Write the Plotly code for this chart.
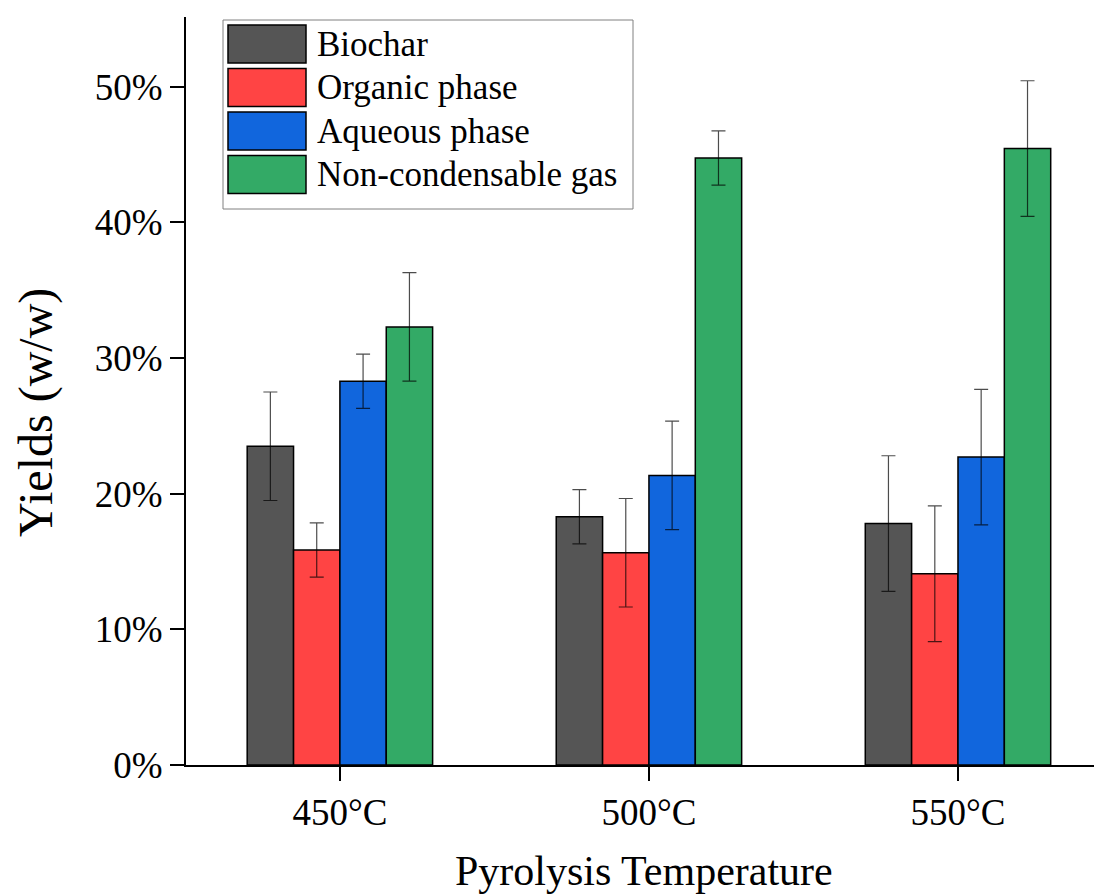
import plotly.graph_objects as go

# ---------------- data ----------------
categories = ["450°C", "500°C", "550°C"]
series_names = ["Biochar", "Organic phase", "Aqueous phase", "Non-condensable gas"]
biochar = [23.5, 18.3, 17.8]
biochar_err = [4.0, 2.0, 5.0]
organic = [15.85, 15.65, 14.1]
organic_err = [2.0, 4.0, 5.0]
aqueous = [28.3, 21.35, 22.7]
aqueous_err = [2.0, 4.0, 5.0]
gas = [32.3, 44.75, 45.45]
gas_err = [4.0, 2.0, 5.0]
y_tick_values = [0, 10, 20, 30, 40, 50]
y_tick_labels = ["0%", "10%", "20%", "30%", "40%", "50%"]
colors = ["#555555", "#FF4444", "#1166DD", "#33AA66"]

values = [biochar, organic, aqueous, gas]
errors = [biochar_err, organic_err, aqueous_err, gas_err]

FONT = "Liberation Serif, Times New Roman, serif"
OFF = 8  # page body margin
W, H = 1102 - OFF, 894 - OFF
L, R, T, B = 186 - OFF, 0, 17 - OFF, 129
PW, PH = W - L - R, H - T - B


def px(x):
    # screen pixel -> paper x
    return (x - OFF - L) / PW


def py(y):
    # screen pixel -> paper y
    return (H - B - (y - OFF)) / PH


fig = go.Figure()
for name, vals, errs, col in zip(series_names, values, errors, colors):
    fig.add_trace(go.Bar(
        x=categories, y=vals, name=name,
        marker=dict(color=col, line=dict(color="black", width=1.5)),
        error_y=dict(type="data", array=errs, color="rgba(0,0,0,0.7)",
                     thickness=1.2, width=7),
        showlegend=False,
    ))

shapes = []
annotations = []
# custom legend box
shapes.append(dict(type="rect", xref="paper", yref="paper",
                   x0=px(223), x1=px(633), y0=py(209), y1=py(20),
                   line=dict(color="#808080", width=1), fillcolor="white",
                   layer="above"))
for i, (name, col) in enumerate(zip(series_names, colors)):
    top = 25 + i * 43.5
    shapes.append(dict(type="rect", xref="paper", yref="paper",
                       x0=px(228), x1=px(306), y0=py(top + 38), y1=py(top),
                       line=dict(color="black", width=1.5), fillcolor=col,
                       layer="above"))
    annotations.append(dict(text=name, xref="paper", yref="paper",
                            x=px(315), y=py(top + 19), xanchor="left",
                            yanchor="middle", showarrow=False,
                            font=dict(family=FONT, size=35, color="black")))

# axis titles
annotations.append(dict(text="Yields (w/w)", xref="paper", yref="paper",
                        x=px(36), y=py(413), xanchor="center", yanchor="middle",
                        textangle=-90, showarrow=False,
                        font=dict(family=FONT, size=48, color="black")))
annotations.append(dict(text="Pyrolysis Temperature", xref="paper", yref="paper",
                        x=px(644), y=py(871), xanchor="center", yanchor="middle",
                        showarrow=False,
                        font=dict(family=FONT, size=42, color="black")))

fig.update_layout(
    width=W, height=H,
    margin=dict(l=L, r=R, t=T, b=B, autoexpand=False),
    paper_bgcolor="white", plot_bgcolor="white",
    barmode="group", bargap=0.4, bargroupgap=0,
    font=dict(family=FONT, color="black"),
    shapes=shapes, annotations=annotations,
    xaxis=dict(type="category", range=[-0.498, 2.466], showline=True,
               linecolor="black", linewidth=2, ticks="outside", ticklen=14,
               tickwidth=2, tickcolor="black", showgrid=False,
               tickfont=dict(family=FONT, size=37, color="black")),
    yaxis=dict(range=[0, 55.15], tickvals=y_tick_values, ticktext=y_tick_labels,
               showline=True, linecolor="black", linewidth=2, ticks="outside",
               ticklen=14, tickwidth=2, tickcolor="black", showgrid=False,
               zeroline=False,
               tickfont=dict(family=FONT, size=37, color="black")),
)

fig.write_html("out.html")
